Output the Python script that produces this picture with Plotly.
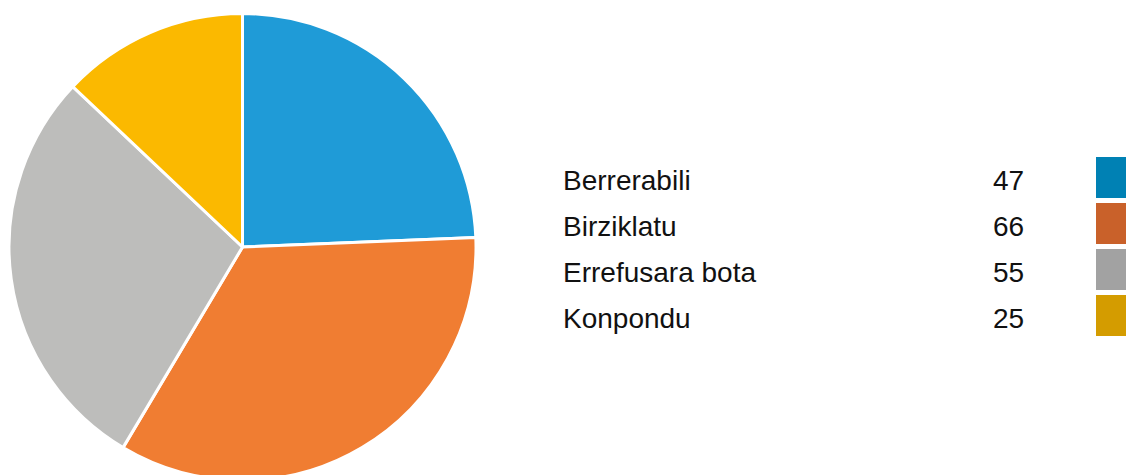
import plotly.graph_objects as go

labels = ["Berrerabili", "Birziklatu", "Errefusara bota", "Konpondu"]
values = [47, 66, 55, 25]
slice_colors = ["#1F9BD7", "#F07D32", "#BDBDBB", "#FBB900"]
key_colors = ["#0081B4", "#C9612A", "#A2A2A2", "#D49C00"]

W, H = 1126, 495

def px(x):
    return x / W

def py(y):
    return 1 - y / H

cx, cy, r = 242.5, 247.0, 233.5

fig = go.Figure(go.Pie(
    labels=labels,
    values=values,
    sort=False,
    direction="clockwise",
    rotation=0,
    marker=dict(colors=slice_colors, line=dict(color="white", width=3)),
    textinfo="none",
    hoverinfo="label+value",
    showlegend=False,
    domain=dict(x=[px(cx - r), px(cx + r)], y=[py(cy + r), py(cy - r)]),
))

font = dict(family="Liberation Sans, Arial, sans-serif", size=28, color="#111111")

annotations = []
shapes = []
row0, pitch, sq = 177.5, 46.0, 41.0
for i, (lab, val, col) in enumerate(zip(labels, values, key_colors)):
    yc = row0 + i * pitch
    annotations.append(dict(x=px(561), y=py(yc + 3), xref="paper", yref="paper",
                            text=lab, showarrow=False, xanchor="left", yanchor="middle",
                            font=font))
    annotations.append(dict(x=px(1026), y=py(yc + 3), xref="paper", yref="paper",
                            text=str(val), showarrow=False, xanchor="right", yanchor="middle",
                            font=font))
    shapes.append(dict(type="rect", xref="paper", yref="paper",
                       x0=px(1096), x1=px(1140), y0=py(yc + sq / 2), y1=py(yc - sq / 2),
                       fillcolor=col, line=dict(width=0)))

fig.update_layout(
    width=W, height=H, autosize=False,
    margin=dict(l=0, r=0, t=0, b=0),
    paper_bgcolor="white", plot_bgcolor="white",
    annotations=annotations, shapes=shapes,
)

fig.write_html("out.html", config={"displayModeBar": False},
               post_script="document.body.style.margin='0';document.body.style.overflow='hidden';document.documentElement.style.overflow='hidden';")
